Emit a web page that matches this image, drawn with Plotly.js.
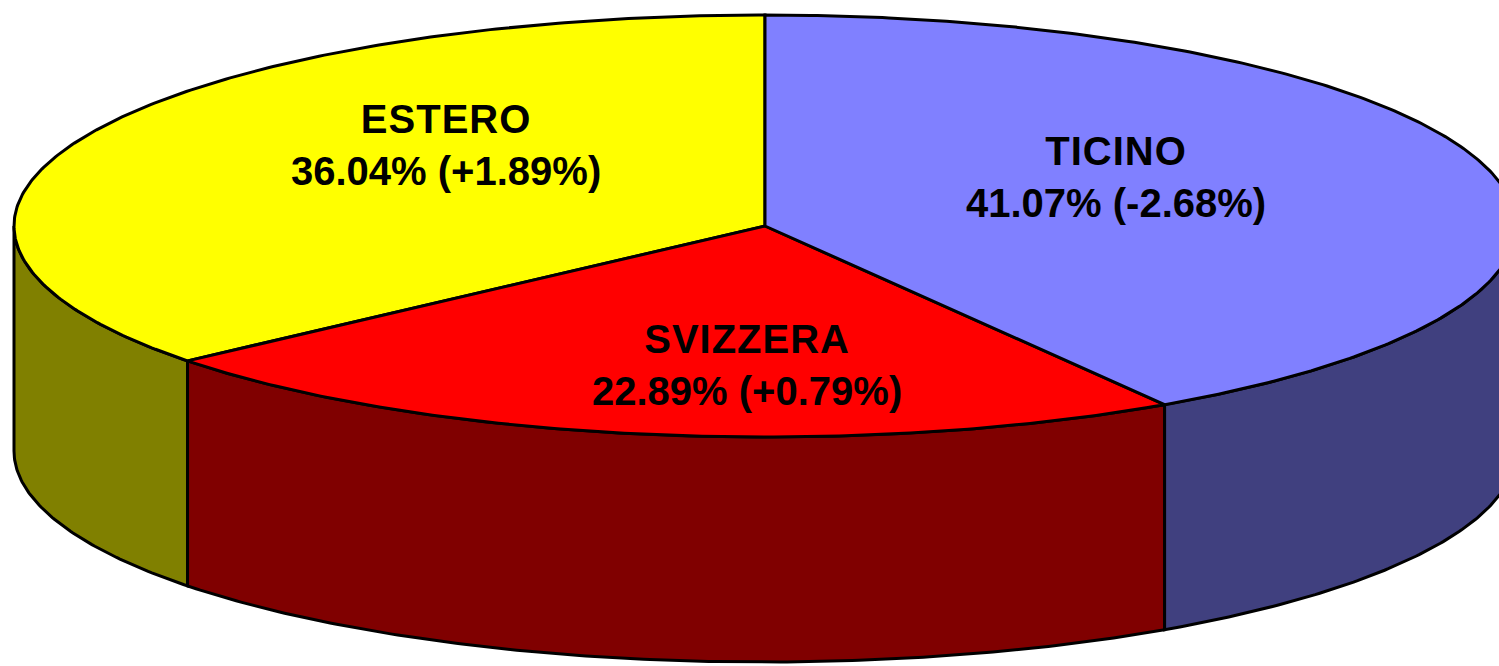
<!DOCTYPE html>
<html>
<head>
<meta charset="utf-8">
<script src="https://cdn.plot.ly/plotly-3.0.1.min.js"></script>
<style>html,body{margin:0;padding:0;background:#fff;overflow:hidden}</style>
</head>
<body>
<div id="chart" style="width:1499px;height:666px"></div>
<script>
// ---- data (slice order: counter-clockwise starting from 12 o'clock) ----
const categories = ['ESTERO', 'SVIZZERA', 'TICINO'];
const shares     = [36.04, 22.89, 41.07];   // %
const changes    = [1.89, 0.79, -2.68];     // % change

// ---- styles ----
const topColors  = ['#FFFF00', '#FF0000', '#8080FF'];
const sideColors = ['#808000', '#800000', '#40407F'];
const labelPos   = [[446, 145], [747, 365], [1116, 177]];

// ---- geometry of the projected disc ----
const geo = {cx: 765, cy: 226, rx: 751, ry: 211, depth: 225, start: 90};

function pt(tDeg, dy) {
  const t = tDeg * Math.PI / 180;
  return [geo.cx + geo.rx * Math.cos(t), geo.cy - geo.ry * Math.sin(t) + (dy || 0)];
}
function arc(a1, a2, dy) {
  const n = Math.max(2, Math.ceil(Math.abs(a2 - a1) / 0.5));
  const xs = [], ys = [];
  for (let i = 0; i <= n; i++) {
    const p = pt(a1 + (a2 - a1) * i / n, dy);
    xs.push(p[0]); ys.push(p[1]);
  }
  return [xs, ys];
}

const total = shares.reduce((a, b) => a + b, 0);
const ranges = [];
let acc = geo.start;
shares.forEach(s => {
  const a1 = acc, a2 = acc + s / total * 360;
  ranges.push([a1, a2]);
  acc = a2;
});

const line = {color: '#000', width: 3};
const traces = [];

// side walls (front half only)
ranges.forEach((r, i) => {
  [[180, 360], [540, 720]].forEach(win => {
    const s = Math.max(r[0], win[0]), e = Math.min(r[1], win[1]);
    if (e > s) {
      const top = arc(s, e, 0), bot = arc(e, s, geo.depth);
      const xs = top[0].concat(bot[0]), ys = top[1].concat(bot[1]);
      xs.push(xs[0]); ys.push(ys[0]);
      traces.push({type: 'scatter', mode: 'lines', x: xs, y: ys, fill: 'toself',
        fillcolor: sideColors[i], line: line, hoverinfo: 'skip'});
    }
  });
});

// top faces
ranges.forEach((r, i) => {
  const a = arc(r[0], r[1], 0);
  const xs = [geo.cx].concat(a[0], [geo.cx]);
  const ys = [geo.cy].concat(a[1], [geo.cy]);
  traces.push({type: 'scatter', mode: 'lines', x: xs, y: ys, fill: 'toself',
    fillcolor: topColors[i], line: line, hoverinfo: 'skip'});
});

const fmt = v => (v > 0 ? '+' : '') + v.toFixed(2) + '%';
const annotations = categories.map((c, i) => ({
  x: labelPos[i][0], y: labelPos[i][1], xref: 'x', yref: 'y',
  text: '<span style="letter-spacing:1px"><b>' + c + '</b></span><br><b>' +
        shares[i].toFixed(2) + '% (' + fmt(changes[i]) + ')</b>',
  showarrow: false, align: 'center',
  font: {family: '"Liberation Sans", Arial, sans-serif', size: 40, color: '#000'}
}));

const layout = {
  width: 1499, height: 666,
  margin: {l: 0, r: 0, t: 0, b: 0},
  paper_bgcolor: '#fff', plot_bgcolor: '#fff',
  showlegend: false,
  xaxis: {range: [0, 1499], visible: false, fixedrange: true},
  yaxis: {range: [666, 0], visible: false, fixedrange: true},
  annotations: annotations
};

Plotly.newPlot('chart', traces, layout, {staticPlot: true, displayModeBar: false});
</script>
</body>
</html>
